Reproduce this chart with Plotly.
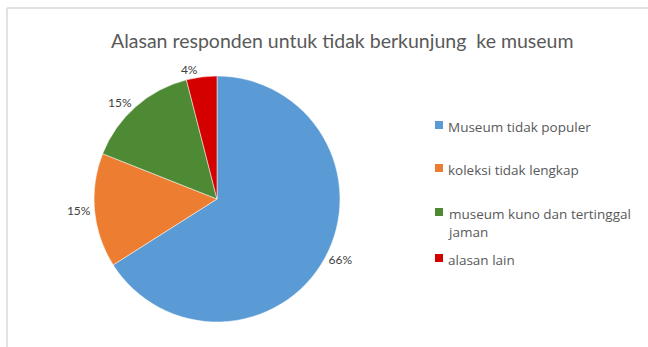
import plotly.graph_objects as go

W, H = 648, 347

title_text = "Alasan responden untuk tidak berkunjung  ke museum"
categories = ["Museum tidak populer", "koleksi tidak lengkap",
              "museum kuno dan tertinggal<br>jaman", "alasan lain"]
values = [66, 15, 15, 4]
colors = ["#5B9BD5", "#ED7D31", "#4E8A33", "#D40000"]

# pie placement (pixels)
cx, cy, r = 217, 199, 123

fig = go.Figure(go.Pie(
    labels=categories,
    values=values,
    sort=False,
    direction="clockwise",
    rotation=0,
    marker=dict(colors=colors, line=dict(color="white", width=0.5)),
    textinfo="percent",
    textposition="outside",
    textfont=dict(family="Lato", size=12, color="#404040"),
    showlegend=False,
    domain=dict(x=[(cx - r) / W, (cx + r) / W],
                y=[1 - (cy + r) / H, 1 - (cy - r) / H]),
))

annotations = [dict(text=title_text, x=342 / W, y=1 - 40 / H, xref="paper", yref="paper",
                    showarrow=False, xanchor="center", yanchor="middle",
                    font=dict(family="Lato", size=19.5, color="#595959"))]
shapes = [
    dict(type="line", xref="paper", yref="paper", x0=7 / W, x1=1, y0=1 - 8 / H, y1=1 - 8 / H,
         line=dict(color="#D9D9D9", width=1.5)),
    dict(type="line", xref="paper", yref="paper", x0=7 / W, x1=7 / W, y0=0, y1=1 - 8 / H,
         line=dict(color="#D9D9D9", width=1.5)),
]

legend_y = [125, 168, 212, 258]
for lab, col, ly in zip(categories, colors, legend_y):
    shapes.append(dict(type="rect", xref="paper", yref="paper",
                       x0=435 / W, x1=443 / W, y0=1 - (ly + 4) / H, y1=1 - (ly - 4) / H,
                       fillcolor=col, line=dict(width=0)))
    annotations.append(dict(text=lab, x=446 / W, y=1 - (ly - 9) / H, xref="paper", yref="paper",
                            showarrow=False, xanchor="left", yanchor="top", align="left",
                            font=dict(family="Open Sans", size=13.5, color="#595959")))

fig.update_layout(
    width=W, height=H,
    margin=dict(l=0, r=0, t=0, b=0),
    paper_bgcolor="white",
    plot_bgcolor="white",
    annotations=annotations,
    shapes=shapes,
)

fig.write_html("out.html")
